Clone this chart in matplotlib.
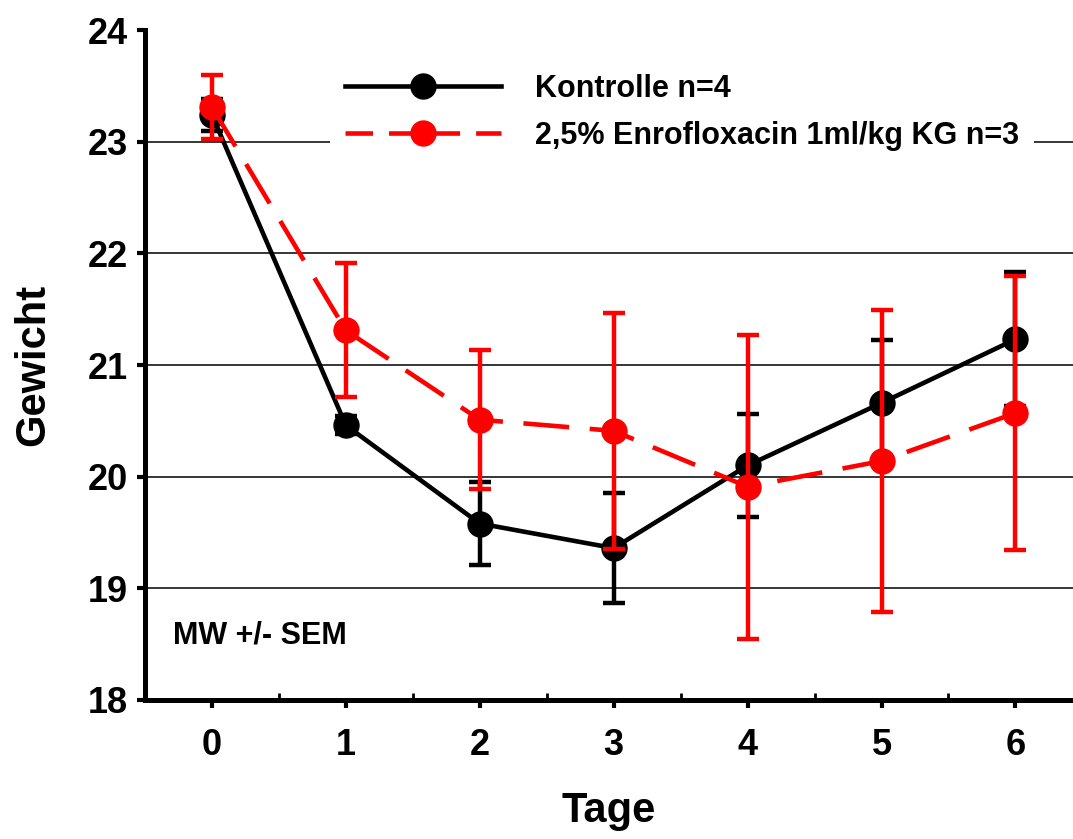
import matplotlib.pyplot as plt
from matplotlib.lines import Line2D
from matplotlib.ticker import MultipleLocator

plt.rcParams['font.family'] = ['Liberation Sans', 'DejaVu Sans']
plt.rcParams['font.weight'] = 'bold'

tage = [0, 1, 2, 3, 4, 5, 6]

kontrolle = [23.24, 20.46, 19.58, 19.36, 20.10, 20.66, 21.23]
kontrolle_sem = [0.14, 0.08, 0.37, 0.49, 0.46, 0.56, 0.60]

enro = [23.31, 21.31, 20.51, 20.41, 19.91, 20.14, 20.57]
enro_sem = [0.29, 0.60, 0.62, 1.06, 1.36, 1.35, 1.23]

labels = ['Kontrolle n=4', '2,5% Enrofloxacin 1ml/kg KG n=3']

fig = plt.figure(figsize=(10.73, 8.39), dpi=100)
ax = fig.add_axes([0.1351, 0.1657, 0.8649, 0.7985])

for y in [19, 20, 21, 22, 23]:
    ax.axhline(y, color='black', lw=1.1, zorder=0)

ax.errorbar(tage, kontrolle, yerr=kontrolle_sem, color='black', lw=3.3, marker='o',
            markersize=18, capsize=8, capthick=3.2, elinewidth=3.2, zorder=3)
ax.errorbar(tage, enro, yerr=enro_sem, color='red', lw=3.3, marker='o', markersize=18,
            capsize=8, capthick=3.2, elinewidth=3.2, dashes=(10, 4.5), zorder=4)

ax.set_xlim(-0.5, 6.43)
ax.set_ylim(18, 24)
ax.set_yticks([18, 19, 20, 21, 22, 23, 24])
ax.set_xticks(tage)
ax.xaxis.set_minor_locator(MultipleLocator(0.5))

for s in ['top', 'right']:
    ax.spines[s].set_visible(False)
for s in ['left', 'bottom']:
    ax.spines[s].set_linewidth(3.6)

ax.tick_params(axis='both', which='major', labelsize=26, width=3, length=6, direction='out')
ax.tick_params(axis='x', which='major', pad=14)
ax.tick_params(axis='y', which='major', pad=6)
ax.tick_params(axis='x', which='minor', width=2, length=5, direction='in')

ax.set_xlabel('Tage', fontsize=30, fontweight='bold', labelpad=20)
ax.set_ylabel('Gewicht', fontsize=30, fontweight='bold', labelpad=25)

ax.text(0.03, 0.085, 'MW +/- SEM', transform=ax.transAxes, fontsize=22, fontweight='bold')

handles = [
    Line2D([], [], color='black', lw=3.3, marker='o', markersize=18),
    Line2D([], [], color='red', lw=3.3, marker='o', markersize=18, dashes=(6, 3.5)),
]
leg = ax.legend(handles, labels, loc='upper left', bbox_to_anchor=(0.183, 0.98), fontsize=22,
                frameon=True, framealpha=1, edgecolor='none', handlelength=5.1,
                handletextpad=1.1, labelspacing=0.55, borderpad=0.5)
leg.get_frame().set_boxstyle('square', pad=0)
for t in leg.get_texts():
    t.set_fontweight('bold')

fig.savefig('out.png', dpi=100)
